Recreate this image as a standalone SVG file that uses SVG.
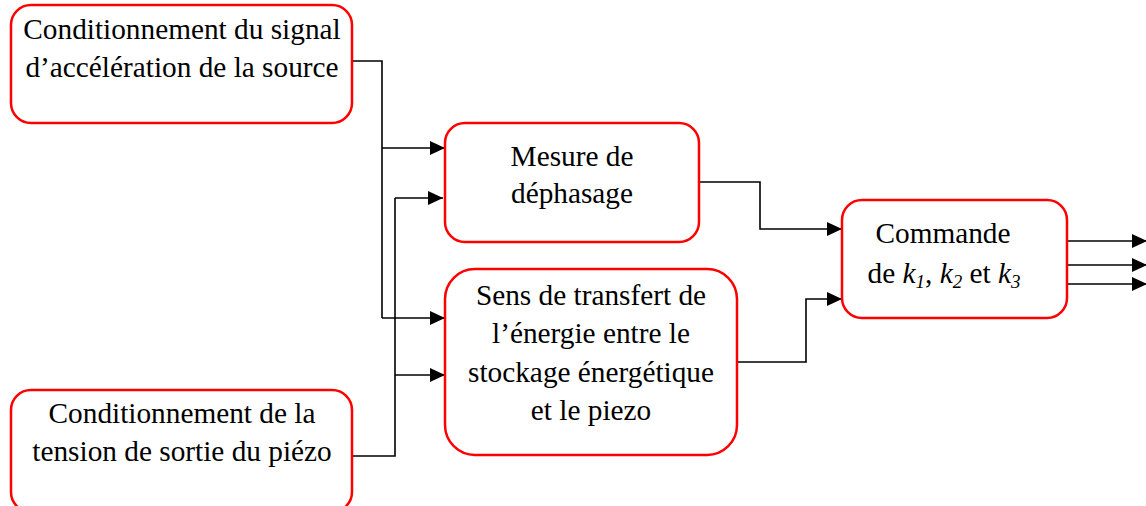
<svg xmlns="http://www.w3.org/2000/svg" width="1146" height="506" viewBox="0 0 1146 506">
<style>
.box{fill:#fff;stroke:#f00;stroke-width:2.5}
.t{font-family:"Liberation Serif","Times New Roman",serif;font-size:29.3px;fill:#000;text-anchor:middle}
.c{fill:none;stroke:#000;stroke-width:1.6}
.a{marker-end:url(#arr)}
</style>
<defs>
<marker id="arr" markerUnits="userSpaceOnUse" markerWidth="16" markerHeight="15" refX="15" refY="7" orient="auto">
<path d="M0,0 L15,7 L0,14 z" fill="#000"/>
</marker>
</defs>
<rect width="1146" height="506" fill="#fff"/>
<g id="connectors">
<path class="c" d="M352,61 H382 V318"/>
<path class="c a" d="M382,148 H445"/>
<path class="c a" d="M382,318 H445"/>
<path class="c" d="M352,456 H395 V198"/>
<path class="c a" d="M395,198 H443"/>
<path class="c a" d="M395,375 H445"/>
<path class="c a" d="M699,182 H760 V229 H842"/>
<path class="c a" d="M738,362 H806 V299 H842"/>
<path class="c a" d="M1067,241 H1147"/>
<path class="c a" d="M1067,265 H1147"/>
<path class="c a" d="M1067,284 H1147"/>
</g>
<g id="n1">
<rect class="box" x="11" y="5" width="341" height="118" rx="20"/>
<text class="t" x="182" y="39">Conditionnement du signal</text>
<text class="t" x="182" y="77">d’accélération de la source</text>
</g>
<g id="n2">
<rect class="box" x="445" y="123" width="254" height="119" rx="20"/>
<text class="t" x="572" y="166">Mesure de</text>
<text class="t" x="572" y="203">déphasage</text>
</g>
<g id="n3">
<rect class="box" x="445" y="269" width="292" height="186" rx="30"/>
<text class="t" x="591" y="305">Sens de transfert de</text>
<text class="t" x="591" y="343">l’énergie entre le</text>
<text class="t" x="591" y="382">stockage énergétique</text>
<text class="t" x="591" y="420">et le piezo</text>
</g>
<g id="n4">
<rect class="box" x="842" y="200" width="225" height="118" rx="20"/>
<text class="t" x="943" y="243">Commande</text>
<text class="t" x="944" y="283">de <tspan font-style="italic">k</tspan><tspan font-style="italic" font-size="19px" dy="5">1</tspan><tspan dy="-5">, </tspan><tspan font-style="italic">k</tspan><tspan font-style="italic" font-size="19px" dy="5">2</tspan><tspan dy="-5"> et </tspan><tspan font-style="italic">k</tspan><tspan font-style="italic" font-size="19px" dy="5">3</tspan></text>
</g>
<g id="n5">
<rect class="box" x="11" y="390" width="341" height="122" rx="20"/>
<text class="t" x="182" y="423">Conditionnement de la</text>
<text class="t" x="182" y="461">tension de sortie du piézo</text>
</g>
</svg>
